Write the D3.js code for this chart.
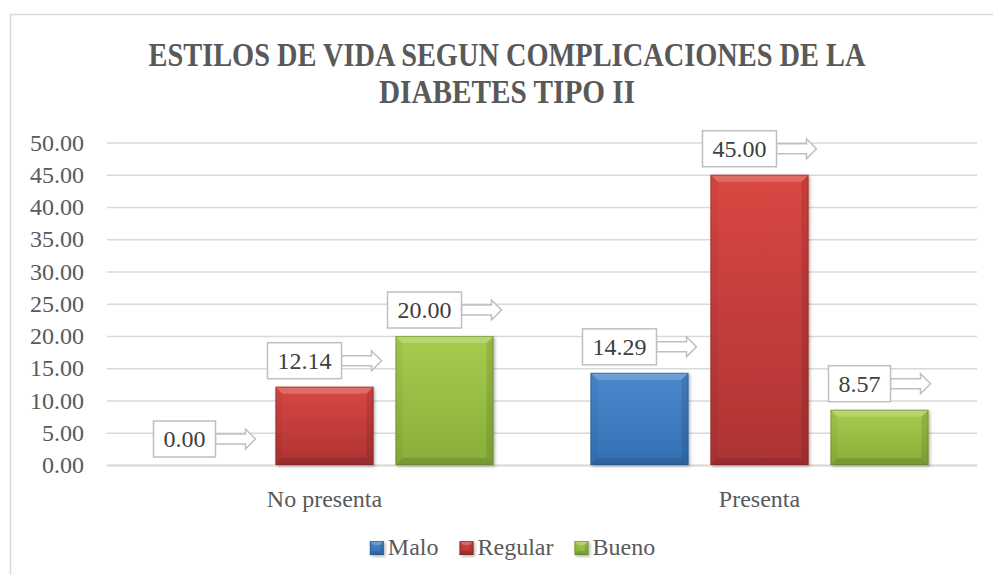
<!DOCTYPE html>
<html>
<head>
<meta charset="utf-8">
<script src="https://cdn.jsdelivr.net/npm/d3@7"></script>
<style>
  html, body { margin: 0; padding: 0; background: #fff; }
  svg { display: block; font-family: "Liberation Serif", "DejaVu Serif", serif; }
</style>
</head>
<body>
<div id="chart"></div>
<script>
// chart values
const titleLines = ["ESTILOS DE VIDA SEGUN COMPLICACIONES DE LA", "DIABETES TIPO II"];
const categories = ["No presenta", "Presenta"];
const seriesNames = ["Malo", "Regular", "Bueno"];
const maloValues = [0.00, 14.29];
const regularValues = [12.14, 45.00];
const buenoValues = [20.00, 8.57];
const yTickValues = [0, 5, 10, 15, 20, 25, 30, 35, 40, 45, 50];

const seriesValues = [maloValues, regularValues, buenoValues];
const colors = {
    "Malo":    {top: "#4a88cc", bottom: "#3370b3", edge: "#234f82"},
    "Regular": {top: "#d94743", bottom: "#ad3333", edge: "#7d2222"},
    "Bueno":   {top: "#a6cc4e", bottom: "#88ae39", edge: "#5f7d26"}
};

const width = 993, height = 575;
const plotLeft = 107, plotRight = 977, plotTop = 142.5, plotBottom = 465;
const fontSize = 24;

const svg = d3.select("#chart").append("svg")
    .attr("width", width)
    .attr("height", height);

const defs = svg.append("defs");

seriesNames.forEach(function (s) {
    const g = defs.append("linearGradient")
        .attr("id", "grad-" + s)
        .attr("x1", 0).attr("y1", 0).attr("x2", 0).attr("y2", 1);
    g.append("stop").attr("offset", "0%").attr("stop-color", colors[s].top);
    g.append("stop").attr("offset", "100%").attr("stop-color", colors[s].bottom);
});

const shadow = defs.append("filter")
    .attr("id", "shadow")
    .attr("x", "-10%").attr("y", "-10%").attr("width", "130%").attr("height", "130%");
shadow.append("feDropShadow")
    .attr("dx", 1.5).attr("dy", 1.5)
    .attr("stdDeviation", 1.5)
    .attr("flood-color", "#000")
    .attr("flood-opacity", 0.3);

// frame
svg.append("rect")
    .attr("x", 10.5).attr("y", 14.5)
    .attr("width", 1000).attr("height", 600)
    .attr("fill", "#fff")
    .attr("stroke", "#d9d9d9")
    .attr("stroke-width", 1.5);

// title
const titleTargets = [{y: 66, w: 717}, {y: 103, w: 256}];
titleLines.forEach(function (t, i) {
    svg.append("text")
        .attr("x", 507)
        .attr("y", titleTargets[i].y)
        .attr("text-anchor", "middle")
        .attr("font-size", 33)
        .attr("font-weight", "bold")
        .attr("fill", "#595959")
        .attr("textLength", titleTargets[i].w)
        .attr("lengthAdjust", "spacingAndGlyphs")
        .text(t);
});

// scales
const yScale = d3.scaleLinear()
    .domain([0, 50])
    .range([plotBottom, plotTop]);

const x0 = d3.scaleBand()
    .domain(categories)
    .range([plotLeft, plotRight])
    .padding(0);

const x1 = d3.scaleBand()
    .domain(seriesNames)
    .range([0, x0.bandwidth()])
    .paddingInner(22 / 120)
    .paddingOuter(0.404);

// grid + y axis
const yAxis = d3.axisLeft(yScale)
    .tickValues(yTickValues)
    .tickFormat(d3.format(".2f"))
    .tickSize(-(plotRight - plotLeft))
    .tickPadding(23);

const yG = svg.append("g")
    .attr("transform", "translate(" + plotLeft + ",0)")
    .call(yAxis);
yG.select(".domain").remove();
yG.selectAll(".tick line")
    .attr("stroke", "#d9d9d9")
    .attr("stroke-width", 1.5);
yG.selectAll(".tick text")
    .attr("fill", "#595959")
    .attr("font-size", fontSize)
    .attr("font-family", "Liberation Serif");

// x axis
const xAxis = d3.axisBottom(x0).tickSize(0).tickPadding(25);
const xG = svg.append("g")
    .attr("transform", "translate(0," + plotBottom + ")")
    .call(xAxis);
xG.select(".domain")
    .attr("stroke", "#d9d9d9")
    .attr("stroke-width", 2);
xG.selectAll(".tick text")
    .attr("fill", "#595959")
    .attr("font-size", fontSize)
    .attr("font-family", "Liberation Serif");

// bevelled bar
function bevelBar(g, x, y, w, h, s, b) {
    if (h <= 0) return;
    b = Math.min(b, h / 2, w / 2);
    g.append("rect")
        .attr("x", x).attr("y", y)
        .attr("width", w).attr("height", h)
        .attr("fill", "url(#grad-" + s + ")")
        .attr("filter", "url(#shadow)");
    const faces = [
        {p: [[x, y], [x + w, y], [x + w - b, y + b], [x + b, y + b]], c: "#fff", o: 0.2},
        {p: [[x, y], [x + b, y + b], [x + b, y + h - b], [x, y + h]], c: "#000", o: 0.04},
        {p: [[x + w, y], [x + w, y + h], [x + w - b, y + h - b], [x + w - b, y + b]], c: "#000", o: 0.1},
        {p: [[x, y + h], [x + b, y + h - b], [x + w - b, y + h - b], [x + w, y + h]], c: "#000", o: 0.12}
    ];
    faces.forEach(function (f) {
        g.append("polygon")
            .attr("points", f.p.map(function (q) { return q.join(","); }).join(" "))
            .attr("fill", f.c)
            .attr("fill-opacity", f.o);
    });
    g.append("rect")
        .attr("x", x + 0.5).attr("y", y + 0.5)
        .attr("width", w - 1).attr("height", h - 1)
        .attr("fill", "none")
        .attr("stroke", colors[s].edge)
        .attr("stroke-opacity", 0.5)
        .attr("stroke-width", 1);
}

// bars
const barData = [];
categories.forEach(function (c, ci) {
    seriesNames.forEach(function (s, si) {
        barData.push({cat: c, series: s, value: seriesValues[si][ci]});
    });
});

const barsG = svg.append("g");
barData.forEach(function (d) {
    const bx = x0(d.cat) + x1(d.series);
    const by = yScale(d.value);
    bevelBar(barsG, bx, by, x1.bandwidth(), yScale(0) - by, d.series, 7);
});

// callout labels (box + right arrow)
const labelsG = svg.append("g");
const fmt = d3.format(".2f");
barData.forEach(function (d) {
    const cx = x0(d.cat) + x1(d.series) + x1.bandwidth() / 2;
    const g = labelsG.append("g");
    const t = g.append("text")
        .attr("font-size", fontSize)
        .attr("fill", "#404040")
        .attr("text-anchor", "middle")
        .text(fmt(d.value));
    const tw = t.node().getComputedTextLength();
    const boxW = tw + 20, boxH = 36, arrowLen = 40;
    const left = cx - (boxW + arrowLen) / 2;
    const bottom = yScale(d.value) - 8;
    const top = bottom - boxH;
    const mid = top + boxH / 2;
    const r = left + boxW;
    g.insert("path", "text")
        .attr("d", "M" + r + "," + (mid - 5) +
            "H" + (r + arrowLen - 10) + "V" + (mid - 10) +
            "L" + (r + arrowLen) + "," + mid +
            "L" + (r + arrowLen - 10) + "," + (mid + 10) +
            "V" + (mid + 5) + "H" + r + "Z")
        .attr("fill", "#fff")
        .attr("stroke", "#bfbfbf")
        .attr("stroke-width", 1.5);
    g.insert("rect", "text")
        .attr("x", left).attr("y", top)
        .attr("width", boxW).attr("height", boxH)
        .attr("fill", "#fff")
        .attr("stroke", "#bfbfbf")
        .attr("stroke-width", 1.5);
    t.attr("x", left + boxW / 2).attr("y", mid + 8);
});

// legend
const legendG = svg.append("g");
let lx = 0;
seriesNames.forEach(function (s, i) {
    const item = legendG.append("g").attr("transform", "translate(" + lx + ",0)");
    bevelBar(item, 0, -14, 14, 14, s, 4);
    const t = item.append("text")
        .attr("x", 18)
        .attr("y", 0)
        .attr("font-size", fontSize)
        .attr("fill", "#595959")
        .text(s);
    lx += 18 + t.node().getComputedTextLength() + 21;
});
const legendW = lx - 21;
legendG.attr("transform", "translate(" + (512.5 - legendW / 2) + ",555)");
</script>
</body>
</html>
